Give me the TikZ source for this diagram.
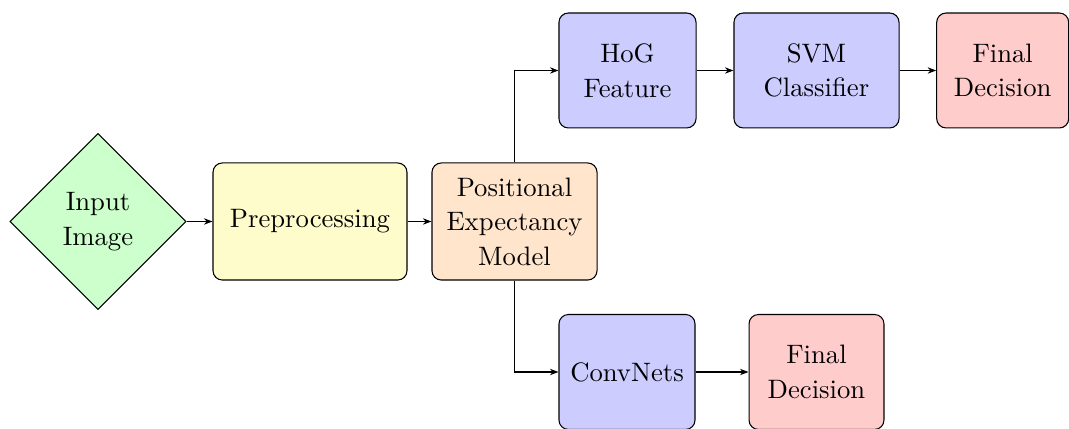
\documentclass[tikz,border=0pt]{standalone}
\usetikzlibrary{shapes.geometric,arrows.meta}
\begin{document}
\begin{tikzpicture}[x=0.375pt,y=-0.375pt,
  every node/.style={font=\linespread{1.08}\selectfont},
  box/.style={draw=black, rounded corners=3.5pt, align=center, minimum height=43.1pt, inner sep=2pt, line width=0.4pt},
  dec/.style={draw=black, diamond, aspect=1, minimum size=66pt, fill=green!20, align=center, inner sep=1pt},
  conn/.style={-{Stealth[length=3.2pt,width=2.4pt]}, line width=0.4pt}]
\useasboundingbox (0,0) rectangle (1069,429);
\node[dec] (input) at (98,221.5) {Input\\Image};
\node[box, fill=yellow!20, minimum width=72.75pt, minimum height=43.9pt] (pre) at (310,221.5) {Preprocessing};
\node[box, fill=orange!20, minimum width=61.9pt, minimum height=43.9pt] (pos) at (514.5,221.5) {Positional\\Expectancy\\Model};
\node[box, fill=blue!20, minimum width=51.4pt] (hog) at (627.5,70.5) {HoG\\Feature};
\node[box, fill=blue!20, minimum width=61.9pt] (svm) at (816.5,70.5) {SVM\\Classifier};
\node[box, fill=red!20, minimum width=49.5pt] (fin1) at (1002.7,70.5) {Final\\Decision};
\node[box, fill=blue!20, minimum width=51pt] (conv) at (627,372) {ConvNets};
\node[box, fill=red!20, minimum width=50.6pt] (fin2) at (816.5,372) {Final\\Decision};
\draw[conn] (input) -- (pre);
\draw[conn] (pre) -- (pos);
\draw[conn] (pos.north) |- (hog.west);
\draw[conn] (pos.south) |- (conv.west);
\draw[conn] (hog) -- (svm);
\draw[conn] (svm) -- (fin1);
\draw[conn] (conv) -- (fin2);
\end{tikzpicture}
\end{document}
